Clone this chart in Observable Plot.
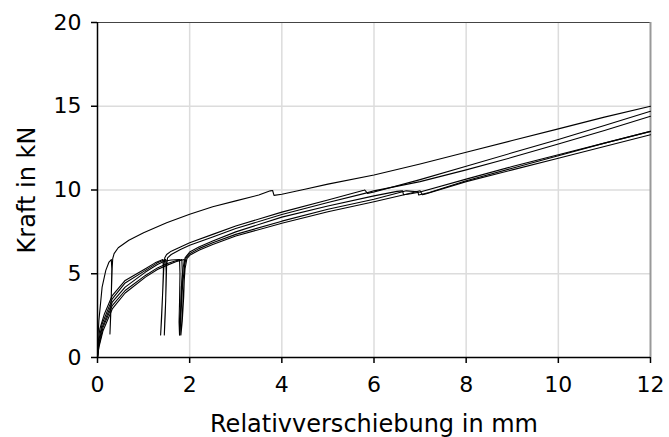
<!DOCTYPE html>
<html>
<head>
<meta charset="utf-8">
<script src="https://cdn.jsdelivr.net/npm/d3@7"></script>
<script src="https://cdn.jsdelivr.net/npm/@observablehq/plot@0.6"></script>
<style>
  html, body { margin: 0; padding: 0; background: #fff; }
</style>
</head>
<body>
<div id="chart"></div>
<script>
// Tick values
const xTicks = [0, 2, 4, 6, 8, 10, 12];
const yTicks = [0, 5, 10, 15, 20];

// Curve A (unloading loop at ~0.3 mm)
const aX = [0, 0.01, 0.03, 0.1, 0.18, 0.25, 0.3, 0.31, 0.3, 0.285, 0.27, 0.285, 0.305, 0.32, 0.33, 0.36, 0.45, 0.68, 1.0, 1.5, 2.0, 2.5, 3.0, 3.5, 3.75, 3.8, 3.83, 4.0, 4.5, 5.0, 6.0, 7.0, 8.0, 9.0, 10.0, 11.0, 12.0];
const aY = [0, 1.2, 2.2, 4.2, 5.2, 5.7, 5.85, 5.3, 3.8, 2.4, 1.4, 2.6, 4.2, 5.4, 5.9, 6.2, 6.55, 7.0, 7.45, 8.05, 8.55, 9.0, 9.35, 9.7, 9.95, 9.97, 9.68, 9.75, 10.05, 10.35, 10.9, 11.55, 12.25, 12.95, 13.65, 14.35, 15.0];

// Curve B (loop at ~1.4 mm, step at ~5.8 mm)
const bX = [0, 0.01, 0.05, 0.15, 0.32, 0.6, 1.04, 1.25, 1.42, 1.43, 1.41, 1.39, 1.37, 1.39, 1.42, 1.44, 1.46, 1.5, 1.6, 1.8, 2.0, 2.5, 3.0, 4.0, 5.0, 5.78, 5.8, 5.86, 6.0, 7.0, 8.0, 9.0, 10.0, 11.0, 12.0];
const bY = [0, 0.8, 1.7, 2.6, 3.7, 4.6, 5.3, 5.65, 5.85, 5.2, 3.6, 2.3, 1.35, 2.5, 4.2, 5.4, 5.95, 6.15, 6.35, 6.6, 6.85, 7.35, 7.85, 8.68, 9.4, 9.98, 10.0, 9.8, 9.88, 10.62, 11.42, 12.22, 13.02, 13.85, 14.7];

// Curve C (loop at ~1.45 mm)
const cX = [0, 0.02, 0.1, 0.32, 0.6, 1.04, 1.3, 1.48, 1.49, 1.48, 1.46, 1.45, 1.47, 1.49, 1.5, 1.52, 1.6, 1.8, 2.0, 2.5, 3.0, 4.0, 5.0, 5.8, 6.0, 7.0, 8.0, 9.0, 10.0, 11.0, 12.0];
const cY = [0, 0.9, 2.0, 3.5, 4.45, 5.2, 5.65, 5.85, 5.1, 3.4, 2.2, 1.35, 2.6, 4.4, 5.5, 5.95, 6.15, 6.45, 6.7, 7.2, 7.7, 8.54, 9.25, 9.8, 9.95, 10.5, 11.2, 11.95, 12.75, 13.55, 14.4];

// Curve D (plateau, loop at ~1.8 mm, step at ~6.5 mm)
const dX = [0, 0.02, 0.1, 0.32, 0.6, 1.04, 1.3, 1.45, 1.6, 1.78, 1.79, 1.78, 1.77, 1.78, 1.8, 1.82, 1.86, 1.9, 2.0, 2.2, 2.5, 3.0, 4.0, 5.0, 6.0, 6.5, 6.62, 6.64, 6.8, 7.0, 8.0, 9.0, 10.0, 11.0, 12.0];
const dY = [0, 0.7, 1.8, 3.3, 4.2, 5.1, 5.55, 5.75, 5.82, 5.85, 5.0, 3.3, 2.1, 1.35, 2.6, 4.2, 5.4, 5.95, 6.3, 6.6, 6.95, 7.5, 8.38, 9.05, 9.65, 9.92, 9.95, 9.72, 9.78, 9.88, 10.65, 11.4, 12.1, 12.8, 13.5];

// Curve E (loop at ~1.8 mm, step at ~6.7 mm)
const eX = [0, 0.03, 0.12, 0.32, 0.6, 1.04, 1.3, 1.5, 1.7, 1.83, 1.84, 1.82, 1.8, 1.79, 1.81, 1.84, 1.88, 1.92, 2.0, 2.2, 2.5, 3.0, 4.0, 5.0, 6.0, 6.7, 6.95, 6.97, 7.2, 8.0, 9.0, 10.0, 11.0, 12.0];
const eY = [0, 0.7, 1.8, 3.1, 4.0, 4.9, 5.35, 5.6, 5.78, 5.85, 5.1, 3.5, 2.2, 1.35, 2.5, 4.0, 5.3, 5.95, 6.2, 6.5, 6.85, 7.35, 8.14, 8.85, 9.45, 9.95, 9.9, 9.7, 9.85, 10.55, 11.3, 12.05, 12.8, 13.5];

// Curve F (loop at ~1.85 mm, step at ~7.0 mm)
const fX = [0, 0.03, 0.12, 0.32, 0.6, 1.04, 1.3, 1.5, 1.7, 1.88, 1.89, 1.87, 1.84, 1.81, 1.84, 1.87, 1.9, 1.94, 2.0, 2.2, 2.5, 3.0, 4.0, 5.0, 6.0, 6.7, 7.0, 7.05, 7.1, 8.0, 9.0, 10.0, 11.0, 12.0];
const fY = [0, 0.6, 1.6, 2.9, 3.85, 4.8, 5.25, 5.5, 5.72, 5.85, 5.2, 3.6, 2.2, 1.35, 2.6, 4.1, 5.3, 5.9, 6.1, 6.4, 6.75, 7.25, 8.02, 8.7, 9.3, 9.75, 9.95, 9.72, 9.75, 10.5, 11.2, 11.9, 12.6, 13.3];

const curves = [
  ["A", aX, aY], ["B", bX, bY], ["C", cX, cY],
  ["D", dX, dY], ["E", eX, eY], ["F", fX, fY]
];
const data = curves.flatMap(([id, xs, ys]) => xs.map((x, i) => ({id, x, y: ys[i]})));

const font = "DejaVu Sans, Verdana, sans-serif";

const chart = Plot.plot({
  width: 669,
  height: 437,
  marginLeft: 97,
  marginRight: 19,
  marginTop: 22,
  marginBottom: 80,
  style: {fontFamily: font, background: "#fff", color: "#000"},
  x: {domain: [0, 12]},
  y: {domain: [0, 20]},
  marks: [
    Plot.gridX(xTicks.filter(d => d > 0 && d < 12), {stroke: "#dcdcdc", strokeOpacity: 1, strokeWidth: 1.5}),
    Plot.gridY(yTicks.filter(d => d > 0 && d < 20), {stroke: "#dcdcdc", strokeOpacity: 1, strokeWidth: 1.5}),
    Plot.ruleY([20], {stroke: "#444", strokeWidth: 1.2}),
    Plot.ruleX([12], {stroke: "#999", strokeWidth: 2}),
    Plot.line(data, {x: "x", y: "y", z: "id", stroke: "#000", strokeWidth: 1.1, curve: "linear"}),
    Plot.ruleX([0], {stroke: "#000", strokeWidth: 1.5}),
    Plot.ruleY([0], {stroke: "#000", strokeWidth: 1.5}),
    Plot.axisX(xTicks, {tickSize: 6, tickPadding: 13, fontSize: 22, label: null, stroke: "#000", strokeWidth: 1.5}),
    Plot.axisY(yTicks, {tickSize: 6, tickPadding: 10, fontSize: 22, label: null, stroke: "#000", strokeWidth: 1.5}),
    Plot.text(["Relativverschiebung in mm"], {frameAnchor: "bottom", textAnchor: "middle", lineAnchor: "middle", dy: 67, fontSize: 24, fill: "#000"}),
    Plot.text(["Kraft in kN"], {frameAnchor: "left", textAnchor: "middle", lineAnchor: "middle", dx: -70, rotate: -90, fontSize: 24, fill: "#000"})
  ]
});
document.getElementById("chart").appendChild(chart);
</script>
</body>
</html>
